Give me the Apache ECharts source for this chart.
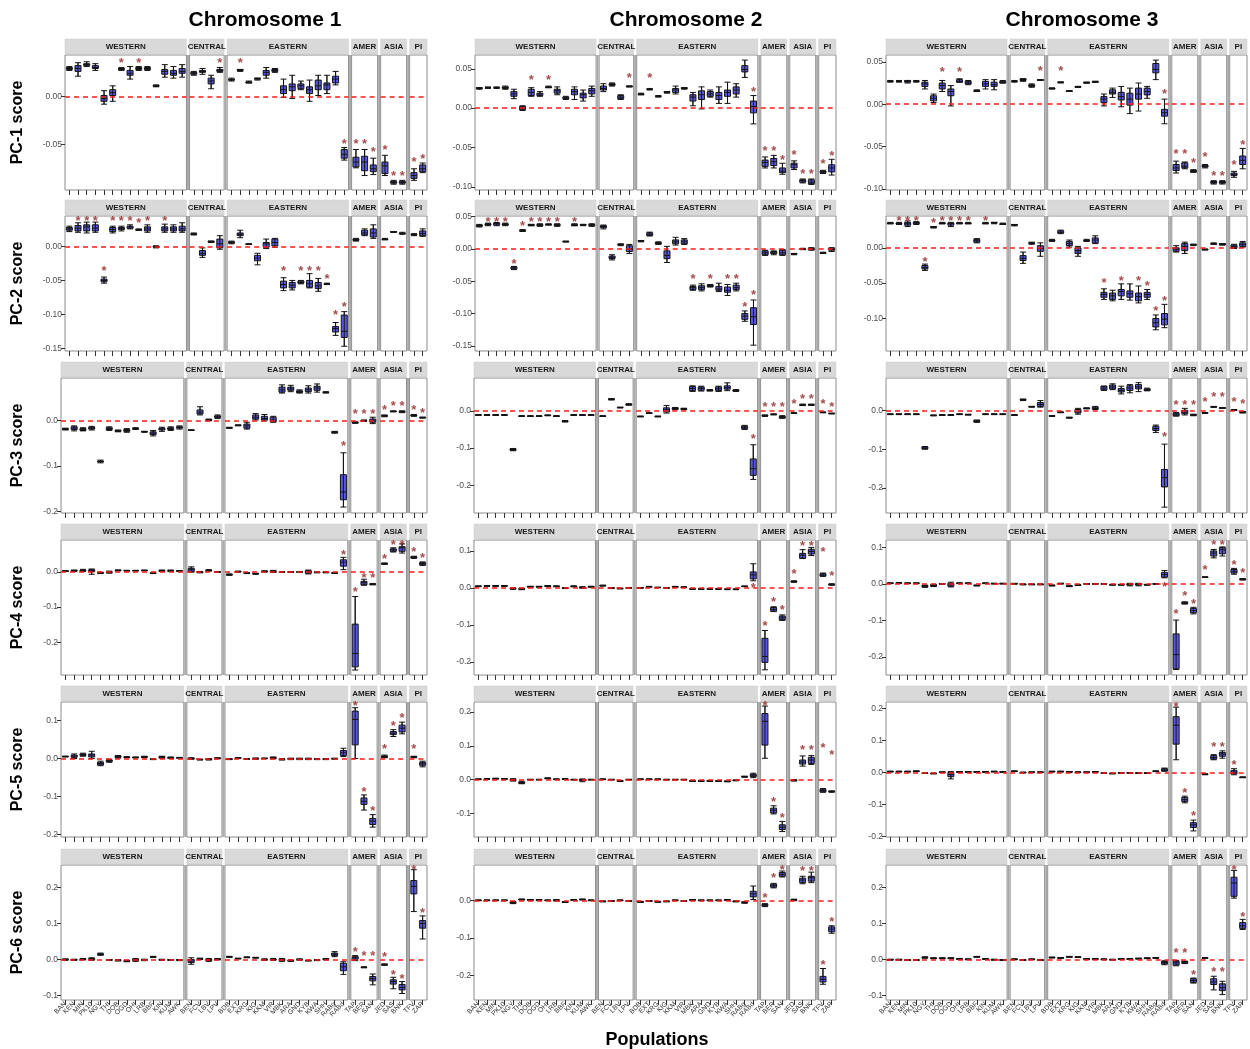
<!DOCTYPE html>
<html><head><meta charset="utf-8">
<script src="https://cdn.jsdelivr.net/npm/echarts@6/dist/echarts.min.js"></script>
<style>html,body{margin:0;padding:0;background:#fff}#c{width:1250px;height:1049px}</style>
</head><body><div id="c"></div>
<script>
const chromosomes = ['Chromosome 1', 'Chromosome 2', 'Chromosome 3'];
const pcLabels = ['PC-1 score', 'PC-2 score', 'PC-3 score', 'PC-4 score', 'PC-5 score', 'PC-6 score'];
const groups = ['WESTERN', 'CENTRAL', 'EASTERN', 'AMER', 'ASIA', 'PI'];
const western = ['BAN','KEN','MIN','PK10','NGY','THI','DOB','OGD','OHI','LRB','BBF','KIN','KUM','AWK'];
const central = ['BEN','FCV','LBV','LPV'];
const eastern = ['BDB','EXT','KRG','KIG','KKM','VIR','MBK','ARA','GND','KYB','KWA','SHH','RABg','RABd'];
const amer = ['TAP','BER','SAN'];
const asia = ['JED','SAS','BNK'];
const pi = ['TFV','ZAP'];
const groupPops = [western, central, eastern, amer, asia, pi];

// y ranges and tick labels per chromosome (rows PC-1..PC-6)
const chr1_range = [[-.097,.043],[-.154,.045],[-.203,.093],[-.292,.090],[-.207,.149],[-.112,.262]];
const chr2_range = [[-.104,.0675],[-.158,.051],[-.274,.088],[-.235,.129],[-.169,.229],[-.265,.095]];
const chr3_range = [[-.101,.058],[-.146,.045],[-.264,.083],[-.25,.121],[-.202,.221],[-.113,.262]];
const chr1_ticks = [[-.05,0],[-.15,-.1,-.05,0],[-.2,-.1,0],[-.2,-.1,0],[-.2,-.1,0,.1],[-.1,0,.1,.2]];
const chr2_ticks = [[-.1,-.05,0,.05],[-.15,-.1,-.05,0,.05],[-.2,-.1,0],[-.2,-.1,0,.1],[-.1,0,.1,.2],[-.2,-.1,0]];
const chr3_ticks = [[-.1,-.05,0,.05],[-.1,-.05,0],[-.2,-.1,0],[-.2,-.1,0,.1],[-.2,-.1,0,.1,.2],[-.1,0,.1,.2]];

// ---- box data: [min, Q1, median, Q3, max] for the 40 populations in order ----
const chr1_pc1 = [
[.027,.028,.029,.030,.031],[.021,.026,.029,.032,.035],[.031,.032,.033,.034,.036],[.027,.029,.030,.032,.034],[-.008,-.005,-.002,.001,.006],[-.005,.001,.004,.007,.011],[.027,.028,.028,.029,.030],[.018,.022,.024,.027,.031],[.027,.028,.029,.030,.031],[.027,.028,.029,.030,.031],[.010,.0105,.011,.0115,.012],[.020,.023,.026,.028,.033],[.019,.022,.024,.027,.031],[.020,.024,.026,.029,.033],
[.022,.023,.024,.025,.026],[.023,.025,.026,.027,.029],[.008,.013,.016,.019,.022],[.025,.026,.027,.028,.030],
[.016,.017,.017,.018,.019],[.026,.027,.027,.028,.028],[.014,.014,.015,.015,.016],[.017,.018,.018,.019,.019],[.019,.022,.025,.027,.030],[.025,.026,.027,.028,.029],[-.001,.003,.007,.011,.018],[-.002,.006,.010,.013,.022],[.007,.008,.011,.013,.016],[-.005,.003,.007,.010,.017],[.001,.007,.011,.017,.022],[.003,.007,.012,.014,.022],[.012,.014,.018,.021,.026],[-.066,-.064,-.060,-.055,-.053],
[-.074,-.073,-.068,-.063,-.055],[-.082,-.077,-.068,-.062,-.055],[-.081,-.078,-.075,-.071,-.064],
[-.082,-.080,-.072,-.068,-.061],[-.091,-.090,-.089,-.088,-.087],[-.091,-.090,-.089,-.088,-.087],
[-.087,-.085,-.082,-.079,-.075],[-.079,-.078,-.075,-.071,-.069]];
const chr1_pc2 = [
[.022,.024,.026,.028,.030],[.021,.023,.027,.031,.035],[.020,.023,.029,.032,.036],[.021,.023,.027,.032,.036],[-.054,-.052,-.050,-.048,-.045],[.020,.022,.025,.028,.030],[.023,.025,.027,.028,.030],[.026,.027,.029,.030,.032],[.024,.024,.025,.025,.026],[.021,.023,.026,.029,.032],[-.002,-.001,0,.0005,.001],[.021,.023,.026,.029,.033],[.021,.023,.026,.029,.032],[.021,.023,.026,.030,.035],
[.017,.018,.018,.019,.020],[-.016,-.013,-.010,-.006,-.002],[.006,.006,.007,.008,.008],[-.004,-.002,.004,.011,.016],
[.004,.005,.006,.007,.008],[.013,.016,.018,.020,.024],[.003,.003,.003,.004,.004],[-.027,-.021,-.017,-.013,-.010],[-.003,-.001,.004,.006,.011],[-.001,.001,.006,.011,.012],[-.065,-.061,-.056,-.051,-.046],[-.064,-.061,-.057,-.053,-.050],[-.055,-.054,-.053,-.051,-.050],[-.061,-.060,-.055,-.050,-.040],[-.066,-.062,-.058,-.053,-.047],[-.056,-.055,-.055,-.055,-.054],[-.131,-.126,-.121,-.118,-.112],[-.147,-.134,-.125,-.101,-.096],
[.008,.009,.010,.011,.012],[.016,.017,.020,.024,.026],[.012,.014,.020,.026,.032],
[.010,.010,.011,.011,.012],[.021,.021,.022,.022,.022],[.018,.019,.019,.020,.021],
[.016,.017,.017,.018,.019],[.015,.016,.019,.023,.026]];
const chr1_pc3 = [
[-.021,-.020,-.019,-.018,-.017],[-.023,-.020,-.017,-.014,-.012],[-.023,-.022,-.020,-.018,-.016],[-.021,-.019,-.017,-.015,-.013],[-.093,-.091,-.090,-.089,-.087],[-.022,-.020,-.018,-.016,-.014],[-.025,-.024,-.023,-.022,-.021],[-.026,-.024,-.022,-.020,-.018],[-.020,-.019,-.018,-.017,-.016],[-.026,-.025,-.025,-.024,-.024],[-.034,-.031,-.028,-.025,-.022],[-.024,-.021,-.019,-.017,-.015],[-.022,-.020,-.018,-.016,-.014],[-.019,-.017,-.015,-.014,-.012],
[-.022,-.022,-.021,-.021,-.021],[.012,.014,.018,.023,.030],[-.001,0,.001,.002,.003],[.004,.006,.008,.010,.012],
[-.017,-.017,-.016,-.016,-.015],[-.012,-.011,-.011,-.010,-.010],[-.019,-.017,-.012,-.008,-.004],[.001,.003,.007,.012,.015],[-.001,.001,.004,.009,.013],[-.004,-.003,.001,.007,.009],[.060,.062,.067,.073,.078],[.063,.066,.069,.073,.077],[.060,.061,.063,.065,.067],[.060,.063,.067,.071,.076],[.062,.066,.071,.075,.080],[.060,.061,.061,.062,.063],[-.028,-.027,-.026,-.025,-.024],[-.190,-.174,-.157,-.119,-.071],
[-.006,-.006,-.005,-.004,-.003],[-.002,-.001,-.001,0,.001],[-.007,-.004,-.001,.003,.007],
[.008,.009,.010,.011,.012],[.019,.019,.020,.020,.021],[.017,.018,.019,.020,.021],
[.009,.010,.011,.012,.013],[.005,.006,.006,.007,.007]];
const chr1_pc4 = [
[.001,.002,.002,.003,.003],[.001,.002,.003,.004,.005],[.001,.003,.004,.005,.007],[-.007,0,.003,.006,.008],[-.005,-.004,-.003,-.002,-.001],[-.004,-.002,-.001,0,.002],[.003,.003,.004,.005,.005],[.002,.003,.003,.004,.004],[.002,.003,.003,.004,.004],[.003,.003,.004,.004,.005],[-.005,-.004,-.004,-.003,-.003],[.001,.002,.003,.004,.005],[.001,.002,.003,.004,.005],[.001,.002,.002,.003,.003],
[-.001,.001,.006,.010,.014],[-.003,-.002,-.001,0,.001],[.002,.003,.004,.005,.006],[-.001,-.001,0,0,.001],
[-.010,-.009,-.008,-.007,-.006],[-.001,0,.001,.001,.002],[-.005,-.004,-.004,-.003,-.003],[-.007,-.006,-.005,-.005,-.004],[-.001,0,.001,.002,.003],[-.002,-.001,.001,.003,.004],[-.002,-.001,-.001,0,0],[-.002,-.001,-.001,0,0],[-.002,-.001,0,0,.001],[-.006,-.004,0,.003,.005],[-.003,-.002,-.002,-.001,0],[-.003,-.002,-.002,-.001,0],[-.004,-.004,-.004,-.003,-.003],[.006,.016,.027,.034,.041],
[-.278,-.269,-.231,-.148,-.070],[-.038,-.037,-.031,-.027,-.021],[-.037,-.036,-.035,-.034,-.033],
[.021,.022,.023,.024,.025],[.056,.058,.062,.065,.068],[.053,.058,.068,.071,.079],
[.038,.039,.041,.043,.044],[.018,.020,.023,.026,.028]];
const chr1_pc5 = [
[.004,.005,.005,.006,.006],[0,.003,.006,.009,.012],[.006,.008,.010,.012,.014],[0,.004,.009,.012,.019],[-.019,-.017,-.013,-.010,-.007],[-.010,-.008,-.006,-.004,-.002],[.001,.003,.005,.007,.008],[.002,.003,.003,.004,.005],[.002,.002,.003,.003,.004],[.002,.003,.004,.005,.006],[-.003,-.002,-.002,-.001,-.001],[.001,.002,.004,.005,.006],[0,.001,.002,.003,.004],[.001,.001,.002,.002,.003],
[-.002,-.001,0,.001,.002],[-.004,-.003,-.003,-.002,-.002],[-.004,-.003,-.002,-.001,0],[-.001,0,.001,.001,.002],
[-.003,-.002,-.002,-.001,-.001],[.001,.001,.002,.002,.002],[-.002,-.001,-.001,-.001,0],[-.002,-.001,0,.001,.001],[-.001,0,0,.001,.001],[-.001,0,.002,.003,.004],[-.004,-.003,-.002,-.001,0],[-.003,-.002,-.001,0,.001],[-.003,-.002,-.001,0,.001],[-.003,-.002,-.001,0,.001],[-.003,-.002,-.002,-.001,0],[-.003,-.002,-.002,-.001,0],[-.002,-.001,0,0,.001],[.005,.008,.015,.021,.027],
[0,.036,.103,.125,.134],[-.136,-.121,-.113,-.104,-.096],[-.181,-.174,-.165,-.158,-.148],
[.002,.003,.005,.007,.009],[.058,.063,.067,.071,.076],[.065,.070,.080,.088,.096],
[.002,.003,.004,.005,.006],[-.022,-.018,-.014,-.010,-.007]];
const chr1_pc6 = [
[-.002,-.001,0,.001,.002],[-.002,-.001,-.001,0,.001],[-.001,0,.001,.002,.003],[-.002,0,.002,.003,.005],[.012,.013,.015,.016,.018],[-.002,-.002,-.001,0,0],[-.004,-.003,-.002,-.001,0],[-.006,-.005,-.004,-.003,-.002],[-.005,-.003,-.001,.001,.003],[-.003,-.002,-.001,0,.001],[.006,.007,.007,.008,.009],[-.002,-.001,-.001,0,.001],[-.002,-.002,-.001,0,0],[-.003,-.002,-.001,0,0],
[-.013,-.008,-.004,0,.005],[0,.001,.002,.003,.004],[-.005,-.003,-.001,.001,.003],[-.001,0,.001,.002,.003],
[.006,.007,.008,.008,.009],[.002,.002,.003,.003,.004],[.005,.006,.006,.007,.007],[.004,.005,.005,.006,.006],[-.002,-.001,0,.001,.002],[-.002,-.001,0,.001,.003],[-.005,-.003,-.001,.001,.003],[-.005,-.004,-.003,-.002,-.001],[-.002,-.001,0,.001,.002],[-.004,-.003,-.003,-.002,-.002],[-.003,-.002,-.002,-.001,0],[-.001,0,.001,.002,.003],[.008,.011,.015,.018,.022],[-.041,-.031,-.020,-.010,-.006],
[-.003,.001,.005,.008,.011],[-.023,-.022,-.021,-.021,-.020],[-.070,-.059,-.053,-.047,-.040],
[-.016,-.015,-.014,-.013,-.012],[-.081,-.068,-.061,-.056,-.049],[-.094,-.084,-.077,-.069,-.061],
[.133,.182,.203,.219,.249],[.057,.087,.100,.108,.121]];

const chr2_pc1 = [
[.024,.025,.025,.026,.026],[.025,.026,.026,.026,.027],[.025,.026,.026,.026,.027],[.024,.025,.026,.027,.028],[.012,.015,.018,.021,.024],[-.003,-.002,0,.002,.003],[.015,.016,.020,.024,.026],[.015,.016,.018,.019,.021],[.026,.026,.027,.027,.028],[.017,.019,.022,.024,.027],[.011,.012,.013,.014,.015],[.011,.017,.021,.024,.027],[.009,.013,.017,.019,.023],[.015,.018,.022,.025,.028],
[.021,.023,.025,.028,.031],[.028,.029,.030,.031,.032],[.011,.012,.014,.016,.017],[.027,.027,.028,.028,.028],
[.017,.017,.018,.018,.019],[.023,.024,.024,.024,.025],[.014,.015,.015,.015,.016],[.019,.020,.020,.021,.021],[.018,.020,.023,.025,.028],[.024,.025,.025,.026,.026],[.003,.009,.014,.017,.020],[-.001,.011,.017,.022,.027],[.014,.015,.018,.021,.023],[.006,.011,.016,.020,.027],[.006,.015,.020,.023,.033],[.014,.018,.023,.027,.031],[.039,.046,.049,.054,.061],[-.020,-.006,.002,.009,.016],
[-.076,-.074,-.069,-.066,-.062],[-.076,-.073,-.068,-.064,-.060],[-.084,-.082,-.080,-.076,-.070],
[-.078,-.076,-.072,-.070,-.067],[-.095,-.094,-.092,-.091,-.090],[-.097,-.096,-.094,-.091,-.090],
[-.083,-.082,-.081,-.080,-.079],[-.085,-.081,-.076,-.072,-.065]];
const chr2_pc2 = [
[.034,.035,.036,.037,.038],[.036,.037,.038,.039,.040],[.036,.037,.039,.040,.041],[.036,.037,.038,.039,.040],[-.032,-.031,-.029,-.028,-.027],[.027,.028,.028,.029,.030],[.036,.036,.037,.038,.038],[.035,.036,.037,.038,.039],[.037,.037,.038,.038,.039],[.035,.036,.037,.038,.039],[.011,.011,.011,.012,.012],[.036,.036,.037,.038,.039],[.036,.037,.037,.038,.038],[.035,.036,.037,.038,.039],
[.031,.033,.035,.036,.037],[-.017,-.015,-.013,-.011,-.009],[.005,.006,.007,.007,.008],[-.007,-.004,0,.005,.007],
[.011,.012,.012,.013,.013],[.020,.021,.023,.025,.026],[.007,.008,.009,.010,.011],[-.021,-.015,-.010,-.003,.004],[.006,.008,.011,.014,.018],[.007,.008,.011,.014,.016],[-.064,-.063,-.060,-.058,-.056],[-.065,-.063,-.060,-.057,-.054],[-.059,-.058,-.057,-.056,-.055],[-.066,-.064,-.062,-.058,-.053],[-.072,-.067,-.064,-.059,-.055],[-.065,-.063,-.060,-.056,-.053],[-.112,-.109,-.104,-.100,-.096],[-.149,-.117,-.105,-.091,-.079],
[-.010,-.009,-.006,-.003,-.002],[-.009,-.007,-.006,-.004,-.003],[-.010,-.009,-.006,-.002,-.001],
[-.009,-.008,-.008,-.007,-.007],[-.001,-.001,0,0,.001],[-.002,-.001,0,.001,.002],
[-.007,-.007,-.006,-.006,-.005],[-.004,-.002,-.001,.001,.002]];
const chr2_pc3 = [
[-.012,-.012,-.011,-.011,-.010],[-.012,-.012,-.011,-.011,-.010],[-.012,-.012,-.011,-.011,-.010],[-.012,-.012,-.011,-.011,-.010],[-.107,-.106,-.104,-.102,-.101],[-.015,-.015,-.014,-.014,-.013],[-.015,-.015,-.014,-.014,-.013],[-.015,-.015,-.014,-.014,-.013],[-.013,-.013,-.012,-.012,-.011],[-.015,-.015,-.014,-.014,-.013],[-.030,-.029,-.028,-.027,-.026],[-.012,-.012,-.011,-.011,-.010],[-.012,-.012,-.011,-.011,-.010],[-.012,-.012,-.011,-.011,-.010],
[-.015,-.015,-.014,-.014,-.013],[.029,.030,.031,.032,.033],[.008,.008,.009,.009,.010],[.015,.016,.017,.018,.019],
[-.016,-.016,-.015,-.015,-.014],[-.007,-.007,-.006,-.006,-.005],[-.016,-.016,-.015,-.015,-.014],[-.006,-.003,.003,.008,.014],[.003,.004,.006,.008,.009],[.003,.004,.005,.006,.007],[.052,.054,.060,.065,.067],[.053,.055,.060,.064,.066],[.053,.054,.055,.056,.057],[.052,.054,.059,.064,.066],[.054,.058,.062,.067,.075],[.052,.053,.054,.056,.057],[-.050,-.048,-.044,-.041,-.039],[-.184,-.173,-.155,-.129,-.091],
[-.015,-.014,-.013,-.012,-.011],[-.011,-.010,-.010,-.009,-.008],[-.020,-.019,-.017,-.015,-.013],
[-.007,-.007,-.006,-.006,-.005],[.014,.015,.016,.017,.018],[.015,.015,.016,.017,.018],
[-.005,-.005,-.004,-.004,-.003],[-.008,-.008,-.007,-.007,-.006]];
const chr2_pc4 = [
[.003,.004,.004,.005,.005],[.004,.005,.005,.006,.006],[.004,.005,.005,.006,.006],[.004,.005,.005,.006,.006],[-.004,-.003,-.002,-.001,0],[-.005,-.004,-.003,-.002,-.001],[.002,.002,.003,.004,.004],[.002,.002,.003,.004,.004],[.004,.004,.005,.006,.006],[.003,.004,.004,.005,.005],[-.002,-.001,-.001,0,0],[.003,.003,.004,.005,.005],[-.001,0,.001,.002,.003],[.002,.002,.003,.004,.004],
[.005,.005,.006,.007,.007],[-.002,-.001,-.001,0,0],[-.003,-.002,-.002,-.001,-.001],[-.001,0,0,0,.001],
[-.001,0,0,0,.001],[.002,.003,.003,.003,.004],[0,.001,.001,.001,.002],[-.001,0,0,0,.001],[.002,.002,.003,.003,.004],[.001,.001,.002,.002,.003],[-.004,-.003,-.003,-.003,-.002],[-.004,-.003,-.003,-.003,-.002],[-.004,-.003,-.003,-.003,-.002],[-.004,-.003,-.003,-.003,-.002],[-.005,-.004,-.004,-.004,-.003],[-.005,-.004,-.004,-.004,-.003],[.003,.004,.004,.004,.005],[.019,.024,.035,.043,.065],
[-.221,-.201,-.185,-.136,-.115],[-.064,-.063,-.058,-.053,-.051],[-.088,-.086,-.081,-.076,-.073],
[.015,.016,.017,.018,.019],[.079,.080,.088,.093,.103],[.087,.091,.098,.104,.109],
[.031,.032,.035,.038,.040],[.007,.008,.009,.010,.011]];
const chr2_pc5 = [
[0,.001,.001,.002,.002],[.001,.002,.002,.003,.003],[.002,.002,.003,.004,.004],[.001,.001,.002,.003,.003],[-.004,-.003,-.001,.001,.003],[-.012,-.011,-.009,-.007,-.005],[-.001,0,0,.001,.001],[-.001,0,0,.001,.001],[.003,.003,.004,.005,.005],[0,.001,.001,.002,.002],[.001,.001,.002,.003,.003],[-.001,0,0,.001,.001],[-.006,-.003,-.001,.001,.002],[-.001,0,0,.001,.001],
[0,.001,.001,.002,.002],[-.001,0,0,.001,.001],[-.005,-.005,-.004,-.003,-.003],[-.001,0,0,.001,.001],
[0,.001,.001,.002,.002],[0,.001,.001,.002,.002],[0,.001,.001,.002,.002],[-.001,0,0,.001,.001],[-.001,0,0,.001,.001],[-.001,0,0,.001,.001],[-.005,-.005,-.004,-.003,-.003],[-.005,-.005,-.004,-.003,-.003],[-.005,-.005,-.004,-.003,-.003],[-.005,-.005,-.004,-.003,-.003],[-.006,-.006,-.005,-.004,-.004],[-.003,-.003,-.002,-.001,-.001],[.007,.008,.009,.010,.010],[.006,.009,.013,.016,.019],
[.063,.102,.172,.195,.217],[-.101,-.098,-.090,-.084,-.077],[-.153,-.147,-.140,-.133,-.123],
[-.004,-.003,-.002,-.001,0],[.040,.046,.052,.058,.070],[.045,.048,.058,.066,.071],
[-.037,-.036,-.032,-.028,-.026],[-.037,-.036,-.035,-.034,-.033]];
const chr2_pc6 = [
[0,0,.001,.001,.002],[0,0,.001,.001,.002],[0,0,.001,.001,.002],[0,0,.001,.001,.002],[-.008,-.007,-.005,-.003,-.002],[.002,.002,.003,.004,.004],[.001,.001,.002,.003,.003],[.001,.001,.002,.003,.003],[0,0,.001,.001,.002],[-.001,0,.001,.002,.003],[-.005,-.005,-.004,-.003,-.003],[.001,.001,.002,.003,.003],[.002,.002,.003,.004,.004],[0,0,.001,.001,.002],
[-.003,-.003,-.002,-.001,-.001],[-.002,-.002,-.001,0,0],[0,0,.001,.001,.002],[-.002,-.002,-.001,0,0],
[-.005,-.004,-.003,-.002,-.002],[-.002,-.002,-.001,0,0],[-.004,-.004,-.003,-.002,-.002],[-.003,-.003,-.002,-.001,-.001],[0,0,.001,.001,.002],[-.002,-.002,-.001,0,0],[.001,.001,.002,.003,.003],[0,0,.001,.001,.002],[0,0,.001,.001,.002],[0,0,.001,.001,.002],[.001,.001,.002,.003,.003],[-.003,-.003,-.002,-.001,-.001],[-.007,-.006,-.005,-.004,-.003],[.003,.010,.018,.025,.039],
[-.016,-.014,-.012,-.010,-.008],[.034,.036,.040,.044,.046],[.063,.065,.070,.075,.079],
[0,.001,.002,.003,.004],[.045,.048,.055,.060,.065],[.048,.052,.061,.065,.076],
[-.223,-.217,-.210,-.202,-.181],[-.087,-.083,-.076,-.070,-.067]];

const chr3_pc1 = [
[.026,.027,.027,.027,.028],[.026,.027,.027,.027,.028],[.025,.026,.027,.028,.028],[.026,.027,.027,.027,.028],[.018,.021,.024,.026,.028],[.002,.004,.007,.010,.012],[.015,.018,.022,.025,.028],[-.002,.010,.015,.018,.022],[.026,.026,.027,.029,.030],[.023,.024,.025,.027,.028],[.015,.015,.016,.016,.017],[.018,.021,.024,.027,.029],[.017,.021,.023,.026,.029],[.025,.025,.026,.027,.028],
[.026,.027,.027,.027,.028],[.027,.028,.029,.030,.030],[.020,.021,.022,.023,.024],[.028,.028,.029,.029,.029],
[.018,.018,.019,.019,.019],[.025,.026,.026,.026,.026],[.015,.015,.015,.016,.016],[.020,.020,.020,.021,.021],[.025,.025,.025,.026,.026],[.026,.026,.026,.027,.027],[-.002,.002,.006,.009,.012],[.008,.012,.014,.017,.019],[-.003,.005,.009,.014,.021],[-.011,-.001,.006,.013,.019],[-.008,.006,.012,.019,.025],[.007,.011,.015,.019,.021],[.029,.037,.041,.048,.052],[-.023,-.014,-.010,-.006,.006],
[-.081,-.078,-.075,-.071,-.067],[-.076,-.075,-.073,-.069,-.068],[-.080,-.080,-.079,-.078,-.077],
[-.075,-.074,-.073,-.072,-.071],[-.094,-.093,-.092,-.091,-.090],[-.094,-.093,-.092,-.091,-.090],
[-.086,-.084,-.083,-.081,-.079],[-.076,-.071,-.066,-.061,-.052]];
const chr3_pc2 = [
[.034,.034,.035,.035,.036],[.033,.034,.034,.035,.036],[.030,.032,.034,.036,.038],[.033,.034,.035,.036,.037],[-.032,-.030,-.028,-.025,-.023],[.028,.029,.029,.030,.030],[.034,.034,.035,.035,.036],[.030,.032,.034,.035,.036],[.034,.034,.035,.035,.036],[.034,.034,.035,.035,.036],[.007,.008,.010,.012,.013],[.034,.034,.035,.035,.036],[.034,.035,.035,.036,.036],[.033,.033,.034,.034,.035],
[.031,.032,.032,.033,.033],[-.022,-.018,-.015,-.011,-.006],[.005,.006,.007,.007,.008],[-.012,-.005,-.001,.003,.007],
[.009,.010,.011,.011,.012],[.020,.021,.022,.024,.025],[.001,.003,.006,.009,.011],[-.012,-.008,-.004,0,.002],[.009,.010,.010,.011,.012],[.006,.007,.011,.014,.017],[-.073,-.070,-.066,-.063,-.058],[-.075,-.073,-.068,-.064,-.060],[-.073,-.068,-.062,-.059,-.051],[-.074,-.070,-.065,-.061,-.051],[-.078,-.075,-.069,-.064,-.054],[-.073,-.070,-.066,-.063,-.059],[-.116,-.112,-.106,-.100,-.095],[-.113,-.109,-.101,-.093,-.080],
[-.006,-.005,-.002,0,.003],[-.008,-.004,.002,.006,.008],[.003,.004,.004,.005,.005],
[-.003,-.003,-.002,-.002,-.002],[.005,.005,.006,.006,.007],[.004,.004,.005,.006,.006],
[-.001,0,.002,.004,.005],[.001,.002,.005,.007,.009]];
const chr3_pc3 = [
[-.011,-.011,-.010,-.010,-.009],[-.011,-.011,-.010,-.010,-.009],[-.011,-.011,-.010,-.010,-.009],[-.011,-.011,-.010,-.010,-.009],[-.100,-.099,-.097,-.094,-.093],[-.014,-.014,-.013,-.013,-.012],[-.013,-.013,-.012,-.012,-.011],[-.013,-.013,-.012,-.012,-.011],[-.011,-.011,-.010,-.010,-.009],[-.012,-.012,-.011,-.011,-.010],[-.031,-.030,-.028,-.026,-.025],[-.011,-.011,-.010,-.010,-.009],[-.011,-.011,-.010,-.010,-.009],[-.011,-.011,-.010,-.010,-.009],
[-.013,-.013,-.012,-.012,-.011],[.025,.026,.027,.028,.029],[.008,.009,.009,.010,.010],[.008,.010,.015,.020,.025],
[-.016,-.015,-.015,-.014,-.014],[-.006,-.006,-.005,-.005,-.004],[-.020,-.020,-.019,-.018,-.018],[-.010,-.007,-.003,.002,.005],[.004,.004,.005,.006,.006],[.002,.004,.005,.008,.010],[.051,.052,.057,.062,.062],[.053,.055,.060,.065,.068],[.042,.047,.051,.056,.062],[.045,.051,.057,.063,.066],[.048,.055,.060,.066,.071],[.050,.051,.053,.055,.057],[-.057,-.052,-.047,-.041,-.038],[-.249,-.197,-.173,-.152,-.087],
[-.015,-.014,-.010,-.007,-.006],[-.012,-.009,-.005,0,.005],[-.014,-.013,-.012,-.011,-.010],
[-.008,-.007,-.007,-.006,-.006],[.008,.008,.009,.009,.010],[.005,.005,.006,.007,.007],
[0,0,.001,.002,.002],[-.007,-.006,-.005,-.004,-.003]];
const chr3_pc4 = [
[.001,.002,.002,.003,.003],[.002,.003,.003,.004,.004],[.001,.002,.002,.003,.003],[.001,.002,.002,.003,.003],[-.009,-.008,-.006,-.004,-.003],[-.007,-.006,-.004,-.002,-.001],[-.001,0,0,.001,.001],[-.008,-.006,-.002,.002,.005],[.001,.002,.002,.003,.003],[.001,.002,.002,.003,.003],[-.005,-.005,-.004,-.003,-.003],[.001,.002,.002,.003,.003],[0,.001,.001,.002,.002],[0,.001,.001,.002,.002],
[0,0,.001,.001,.002],[-.002,-.002,-.001,0,0],[-.002,-.002,-.001,0,0],[-.002,-.002,-.001,0,0],
[-.005,-.005,-.004,-.003,-.003],[0,.001,.001,.002,.002],[-.007,-.007,-.006,-.005,-.005],[-.004,-.004,-.003,-.002,-.002],[-.001,0,0,.001,.001],[-.001,0,0,.001,.001],[-.001,0,0,.001,.001],[-.003,-.003,-.002,-.001,-.001],[-.003,-.003,-.002,-.001,-.001],[-.005,-.003,-.001,.001,.002],[-.005,-.003,-.001,.001,.002],[-.003,-.003,-.002,-.001,-.001],[-.001,0,0,.001,.001],[.017,.019,.026,.032,.037],
[-.235,-.233,-.194,-.137,-.099],[-.055,-.054,-.052,-.050,-.049],[-.082,-.079,-.073,-.067,-.064],
[.018,.018,.019,.019,.020],[.072,.077,.085,.091,.095],[.077,.083,.094,.100,.102],
[.027,.030,.035,.040,.043],[.011,.012,.013,.014,.015]];
const chr3_pc5 = [
[.002,.002,.003,.004,.004],[.002,.002,.003,.004,.004],[.002,.002,.003,.004,.004],[.003,.003,.004,.005,.005],[-.003,-.003,-.002,-.001,-.001],[-.004,-.004,-.003,-.002,-.002],[0,0,.001,.002,.002],[-.020,-.013,-.006,0,.003],[.001,.001,.002,.003,.003],[.001,.001,.002,.003,.003],[.001,.001,.002,.003,.003],[.001,.001,.002,.003,.003],[.002,.002,.003,.004,.004],[.001,.001,.002,.003,.003],
[.003,.003,.004,.005,.005],[-.001,-.001,0,.001,.001],[0,0,.001,.002,.002],[0,0,.001,.002,.002],
[.002,.002,.003,.004,.004],[.002,.002,.003,.004,.004],[.001,.001,.002,.003,.003],[0,0,.001,.002,.002],[0,0,.001,.002,.002],[.001,.001,.002,.003,.003],[-.003,-.003,-.002,-.001,-.001],[-.004,-.004,-.003,-.002,-.002],[-.002,-.002,-.001,0,0],[-.002,-.002,-.001,0,0],[-.003,-.003,-.002,-.001,-.001],[-.003,-.003,-.002,-.001,-.001],[.003,.003,.004,.005,.005],[.004,.005,.008,.012,.014],
[.040,.089,.148,.175,.205],[-.095,-.091,-.085,-.078,-.074],[-.183,-.172,-.164,-.157,-.149],
[-.007,-.006,-.005,-.005,-.004],[.040,.042,.047,.053,.056],[.045,.051,.058,.063,.068],
[-.007,-.004,.001,.006,.012],[-.016,-.016,-.015,-.014,-.014]];
const chr3_pc6 = [
[-.002,-.002,-.001,0,0],[-.002,-.002,-.001,0,0],[-.003,-.003,-.002,-.001,-.001],[-.003,-.003,-.002,-.001,-.001],[.003,.004,.005,.006,.007],[.002,.002,.003,.004,.004],[.002,.002,.003,.004,.004],[.002,.002,.003,.004,.004],[0,0,.001,.002,.002],[-.001,-.001,0,.001,.001],[.006,.006,.007,.008,.008],[0,0,.001,.002,.002],[-.002,-.002,-.001,0,0],[-.003,-.003,-.002,-.001,-.001],
[-.001,-.001,0,.001,.001],[-.003,-.003,-.002,-.001,-.001],[-.001,-.001,0,.001,.001],[-.003,-.003,-.002,-.001,-.001],
[.004,.004,.005,.006,.006],[.003,.003,.004,.005,.005],[.006,.006,.007,.008,.008],[.005,.005,.006,.007,.007],[0,0,.001,.002,.002],[0,0,.001,.002,.002],[-.001,-.001,0,.001,.001],[-.002,-.002,-.001,0,0],[0,0,.001,.002,.002],[0,0,.001,.002,.002],[.001,.001,.002,.003,.003],[.002,.002,.003,.004,.004],[.003,.003,.004,.005,.005],[-.015,-.013,-.009,-.006,-.004],
[-.018,-.016,-.010,-.005,-.003],[-.012,-.011,-.008,-.006,-.005],[-.066,-.064,-.059,-.054,-.052],
[.003,.003,.004,.004,.005],[-.085,-.070,-.063,-.054,-.047],[-.098,-.087,-.079,-.068,-.061],
[.170,.175,.212,.228,.247],[.083,.086,.093,.102,.111]];

// ---- significance stars: [population, y position] ----
const chr1_pc1_stars = [['DOB',.037],['OHI',.037],['LPV',.037],['EXT',.037],['RABd',-.047],['TAP',-.0465],['BER',-.0465],['SAN',-.055],['JED',-.053],['SAS',-.0795],['BNK',-.0795],['TFV',-.0656],['ZAP',-.062]];
const chr1_pc2_stars = [['KEN',.042],['MIN',.042],['PK10',.042],['NGY',-.033],['THI',.042],['DOB',.042],['OGD',.042],['OHI',.038],['LRB',.042],['KIN',.042],['MBK',-.033],['GND',-.033],['KYB',-.033],['KWA',-.033],['SHH',-.044],['RABg',-.0975],['RABd',-.086]];
const chr1_pc3_stars = [['RABd',-.050],['TAP',.019],['BER',.019],['SAN',.019],['JED',.028],['SAS',.037],['BNK',.037],['TFV',.028],['ZAP',.023]];
const chr1_pc4_stars = [['RABd',.055],['TAP',-.050],['BER',-.011],['SAN',-.011],['JED',.043],['SAS',.082],['BNK',.082],['TFV',.064],['ZAP',.045]];
const chr1_pc5_stars = [['TAP',.144],['BER',-.081],['SAN',-.132],['JED',.031],['SAS',.092],['BNK',.114],['TFV',.031]];
const chr1_pc6_stars = [['TAP',.027],['BER',.018],['SAN',.018],['JED',.013],['SAS',-.036],['BNK',-.047],['TFV',.256],['ZAP',.135]];
const chr2_pc1_stars = [['DOB',.039],['OHI',.039],['LPV',.041],['EXT',.041],['RABd',.024],['TAP',-.051],['BER',-.051],['SAN',-.063],['JED',-.056],['SAS',-.081],['BNK',-.081],['TFV',-.068],['ZAP',-.058]];
const chr2_pc2_stars = [['KEN',.045],['MIN',.045],['PK10',.045],['NGY',-.019],['THI',.040],['DOB',.045],['OGD',.045],['OHI',.045],['LRB',.045],['KIN',.045],['MBK',-.043],['GND',-.043],['KWA',-.043],['SHH',-.043],['RABg',-.086],['RABd',-.067]];
const chr2_pc3_stars = [['RABd',-.068],['TAP',.017],['BER',.017],['SAN',.017],['JED',.026],['SAS',.039],['BNK',.039],['TFV',.024],['ZAP',.018]];
const chr2_pc4_stars = [['RABd',.007],['TAP',-.097],['BER',-.032],['SAN',-.052],['JED',.043],['SAS',.119],['BNK',.119],['TFV',.103],['ZAP',.039]];
const chr2_pc5_stars = [['TAP',.224],['BER',-.059],['SAN',-.104],['SAS',.095],['BNK',.095],['TFV',.100],['ZAP',.081]];
const chr2_pc6_stars = [['TAP',.013],['BER',.067],['SAN',.088],['SAS',.085],['BNK',.085],['TFV',-.166],['ZAP',-.051]];
const chr3_pc1_stars = [['DOB',.041],['OHI',.041],['LPV',.042],['EXT',.042],['RABd',.015],['TAP',-.055],['BER',-.055],['SAN',-.066],['JED',-.059],['SAS',-.082],['BNK',-.082],['TFV',-.068],['ZAP',-.045]];
const chr3_pc2_stars = [['KEN',.041],['MIN',.041],['PK10',.041],['NGY',-.017],['THI',.039],['DOB',.041],['OGD',.041],['OHI',.041],['LRB',.041],['KIN',.041],['MBK',-.046],['GND',-.043],['KWA',-.044],['SHH',-.051],['RABg',-.086],['RABd',-.072]];
const chr3_pc3_stars = [['RABd',-.063],['TAP',.021],['BER',.021],['SAN',.021],['JED',.029],['SAS',.040],['BNK',.040],['TFV',.028],['ZAP',.022]];
const chr3_pc4_stars = [['RABd',-.002],['TAP',-.076],['BER',-.025],['SAN',-.048],['JED',.047],['SAS',.114],['BNK',.114],['TFV',.060],['ZAP',.038]];
const chr3_pc5_stars = [['TAP',.212],['BER',-.055],['SAN',-.128],['SAS',.089],['BNK',.089],['TFV',.032]];
const chr3_pc6_stars = [['TAP',.025],['BER',.025],['SAN',-.036],['SAS',-.029],['BNK',-.029],['TFV',.256],['ZAP',.126]];

const boxes = [
  [chr1_pc1, chr1_pc2, chr1_pc3, chr1_pc4, chr1_pc5, chr1_pc6],
  [chr2_pc1, chr2_pc2, chr2_pc3, chr2_pc4, chr2_pc5, chr2_pc6],
  [chr3_pc1, chr3_pc2, chr3_pc3, chr3_pc4, chr3_pc5, chr3_pc6]];
const stars = [
  [chr1_pc1_stars, chr1_pc2_stars, chr1_pc3_stars, chr1_pc4_stars, chr1_pc5_stars, chr1_pc6_stars],
  [chr2_pc1_stars, chr2_pc2_stars, chr2_pc3_stars, chr2_pc4_stars, chr2_pc5_stars, chr2_pc6_stars],
  [chr3_pc1_stars, chr3_pc2_stars, chr3_pc3_stars, chr3_pc4_stars, chr3_pc5_stars, chr3_pc6_stars]];
const ranges = [chr1_range, chr2_range, chr3_range];
const ticks = [chr1_ticks, chr2_ticks, chr3_ticks];

// ---- layout ----
const FONT = 'Liberation Sans, Arial, sans-serif';
const ROW_TOP = [39, 200, 362, 524, 686, 849];
const STRIP_H = 15, PANEL_OFF = 16, PANEL_H = 135, GAP = 3;
const COL_LEFT = [[65,65,61,61,61,61],[475,475,474,474,474,474],[886,886,886,886,886,886]];
const COL_RIGHT = [427, 836, 1247];
const TITLE_X = [265, 686, 1082];

const grid = [], xAxis = [], yAxis = [], series = [], graphic = [];
for (let c = 0; c < 3; c++) {
  graphic.push({type:'text', x:TITLE_X[c], y:20, style:{text:chromosomes[c], font:'bold 21px ' + FONT, fill:'#000', align:'center', verticalAlign:'middle'}});
  for (let r = 0; r < 6; r++) {
    const left = COL_LEFT[c][r], W = COL_RIGHT[c] - left;
    const unit = (W - 5 * GAP) / 40;
    const top = ROW_TOP[r] + PANEL_OFF;
    const [ymin, ymax] = ranges[c][r];
    const tv = ticks[c][r];
    const dec = r < 2 ? 2 : 1;
    let x = left, off = 0;
    for (let g = 0; g < 6; g++) {
      const pops = groupPops[g];
      const w = pops.length * unit;
      const idx = grid.length;
      grid.push({left:x, top:top, width:w, height:PANEL_H, show:true, backgroundColor:'#fff', borderColor:'#8c8c8c', borderWidth:1, containLabel:false});
      xAxis.push({type:'category', gridIndex:idx, data:pops, boundaryGap:true, position:'bottom',
        axisLine:{show:false, onZero:false}, splitLine:{show:false},
        axisTick:{show:true, alignWithLabel:true, length:5, lineStyle:{color:'#333', width:1}},
        axisLabel:{show:r === 5, interval:0, rotate:45, fontSize:6.8, color:'#333', margin:3, fontFamily:FONT}});
      yAxis.push({type:'value', gridIndex:idx, min:ymin, max:ymax,
        axisLine:{show:false}, splitLine:{show:false},
        axisTick:{show:g === 0, length:4, customValues:tv, lineStyle:{color:'#333'}},
        axisLabel:{show:g === 0, customValues:tv, fontSize:8.5, color:'#4d4d4d', margin:3, fontFamily:FONT,
          formatter:(v) => Number(v).toFixed(dec)}});
      const bdata = boxes[c][r].slice(off, off + pops.length);
      // zero reference line, drawn beneath the boxes
      series.push({type:'line', xAxisIndex:idx, yAxisIndex:idx, data:[], silent:true, z:1,
        markLine:{silent:true, symbol:'none', label:{show:false}, data:[{yAxis:0}],
          lineStyle:{color:'#ff1a1a', type:[5,4], width:1.5}}});
      series.push({type:'boxplot', xAxisIndex:idx, yAxisIndex:idx, data:bdata, boxWidth:[6,6], silent:true,
        itemStyle:{color:'#5858e4', borderColor:'#141414', borderWidth:1}, z:2});
      series.push({type:'custom', xAxisIndex:idx, yAxisIndex:idx, silent:true, z:3,
        data:bdata.map((b, i) => [i, b[0], b[4]]),
        renderItem:(params, api) => {
          const p1 = api.coord([api.value(0), api.value(1)]);
          const p2 = api.coord([api.value(0), api.value(2)]);
          return {type:'line', shape:{x1:p1[0], y1:p1[1], x2:p2[0], y2:p2[1]}, style:{stroke:'#141414', lineWidth:1}};
        }});
      const sdata = stars[c][r].filter(s => pops.includes(s[0]));
      if (sdata.length) {
        series.push({type:'scatter', xAxisIndex:idx, yAxisIndex:idx, data:sdata, silent:true, z:4,
          symbol:'circle', symbolSize:1, itemStyle:{color:'rgba(0,0,0,0)'},
          label:{show:true, formatter:'*', position:'inside', color:'#8b1a1a', fontSize:13, fontWeight:'bold', fontFamily:FONT, offset:[0,3]}});
      }
      // strip header
      graphic.push({type:'rect', shape:{x:x, y:ROW_TOP[r], width:w, height:STRIP_H}, style:{fill:'#d9d9d9', stroke:'#cfcfcf', lineWidth:0.5}});
      graphic.push({type:'text', x:x + w / 2, y:ROW_TOP[r] + STRIP_H / 2 + 0.5, style:{text:groups[g], font:'bold 8px ' + FONT, fill:'#1a1a1a', align:'center', verticalAlign:'middle'}});
      if (g < 5) graphic.push({type:'rect', shape:{x:x + w + 0.5, y:top, width:GAP - 1, height:PANEL_H}, style:{fill:'#a9a9a9'}});
      x += w + GAP; off += pops.length;
    }
    if (c === 0) {
      graphic.push({type:'text', x:18, y:top + PANEL_H / 2, rotation:Math.PI / 2,
        style:{text:pcLabels[r], font:'bold 16px ' + FONT, fill:'#000', align:'center', verticalAlign:'middle'}});
    }
  }
}
graphic.push({type:'text', x:657, y:1040, style:{text:'Populations', font:'bold 18px ' + FONT, fill:'#000', align:'center', verticalAlign:'middle'}});

const chart = echarts.init(document.getElementById('c'), null, {renderer:'canvas'});
chart.setOption({animation:false, backgroundColor:'#fff', grid, xAxis, yAxis, series, graphic});
</script></body></html>
